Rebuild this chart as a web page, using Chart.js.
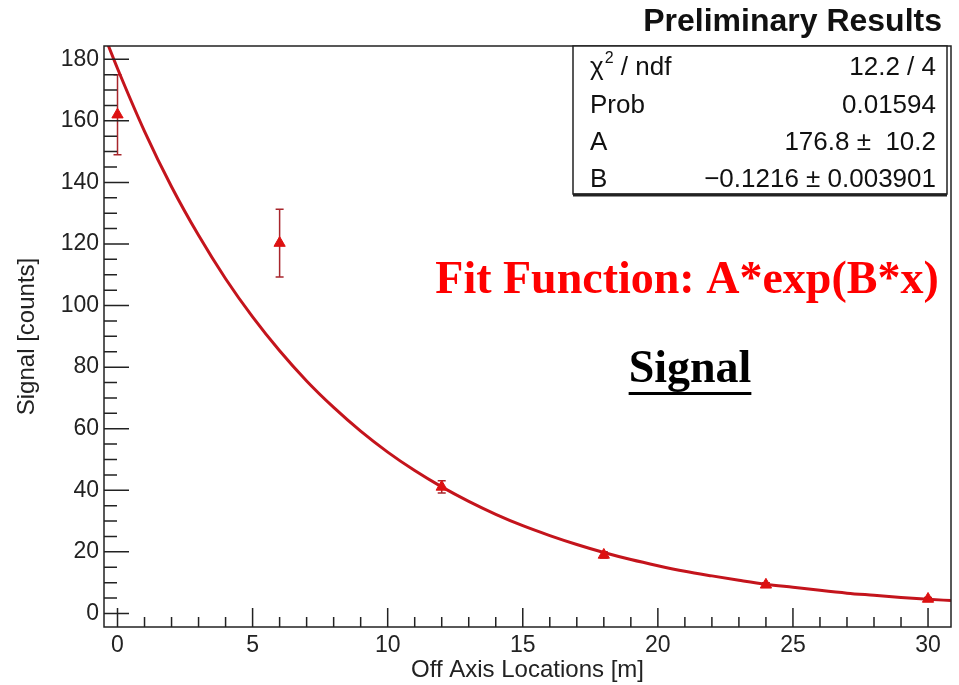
<!DOCTYPE html>
<html>
<head>
<meta charset="utf-8">
<script src="https://cdn.jsdelivr.net/npm/chart.js@4.4.1/dist/chart.umd.min.js"></script>
<style>
  html, body { margin: 0; padding: 0; background: #fff; }
  #wrap { width: 959px; height: 685px; position: relative; }
</style>
</head>
<body>
<div id="wrap"><canvas id="fitChart"></canvas></div>
<script>
// Measured points (off axis location in m, signal in counts)
const locations = [0, 6, 12, 18, 24, 30];
const signal = [162, 120.3, 41.1, 19.0, 9.3, 4.7];
const signalErr = [13, 11, 2, 1, 0.7, 0.5];

// Fit curve
const fitX = [-0.5, 0, 1, 2, 3, 4, 5, 6, 7, 8, 9, 10, 11, 12, 13, 14, 15, 16, 17, 18, 19, 20,
    21, 22, 23, 24, 25, 26, 27, 28, 29, 30, 30.85];
const fitY = [188, 177, 156.6, 138.6, 122.8, 108.7, 96.3, 85.3, 75.5, 66.9, 59.2, 52.4, 46.4, 41.1, 36.4, 32.2,
    28.5, 25.3, 22.4, 19.8, 17.5, 15.5, 13.7, 12.2, 10.8, 9.5, 8.5, 7.5, 6.6, 5.9, 5.2, 4.6, 4.2];

// Stats box
const statsLabels = ['χ', 'Prob', 'A', 'B'];
const statsValues = ['12.2 / 4', '0.01594', '176.8 \u00b1  10.2', '\u22120.1216 \u00b1 0.003901'];

const sans = '"Liberation Sans", Arial, Helvetica, sans-serif';
const serif = '"Liberation Serif", "Times New Roman", serif';

// ROOT style frame, inner ticks and annotations
const rootStyle = {
    id: 'rootStyle',
    beforeDatasetsDraw(chart) {
        // error bars under the markers
        const { ctx, scales: { x, y } } = chart;
        ctx.save();
        ctx.strokeStyle = '#a8262c';
        ctx.lineWidth = 1.5;
        locations.forEach((loc, i) => {
            const px = x.getPixelForValue(loc);
            const top = y.getPixelForValue(signal[i] + signalErr[i]);
            const bot = y.getPixelForValue(signal[i] - signalErr[i]);
            ctx.beginPath();
            ctx.moveTo(px, top); ctx.lineTo(px, bot);
            ctx.moveTo(px - 4, top); ctx.lineTo(px + 4, top);
            ctx.moveTo(px - 4, bot); ctx.lineTo(px + 4, bot);
            ctx.stroke();
        });
        ctx.restore();
    },
    afterDraw(chart) {
        const { ctx, chartArea: a, scales: { x, y } } = chart;
        ctx.save();

        // inner ticks
        ctx.strokeStyle = '#222';
        ctx.lineWidth = 1.5;
        ctx.beginPath();
        for (let v = Math.ceil(x.min); v <= x.max; v++) {
            const px = x.getPixelForValue(v);
            const len = v % 5 === 0 ? 19 : 10;
            ctx.moveTo(px, a.bottom); ctx.lineTo(px, a.bottom - len);
        }
        for (let v = Math.ceil(y.min / 5) * 5; v <= y.max; v += 5) {
            const py = y.getPixelForValue(v);
            const len = v % 20 === 0 ? 25 : 13;
            ctx.moveTo(a.left, py); ctx.lineTo(a.left + len, py);
        }
        ctx.stroke();

        // frame
        ctx.lineWidth = 1.5;
        ctx.strokeRect(a.left, a.top, a.right - a.left, a.bottom - a.top);

        // title
        ctx.fillStyle = '#111';
        ctx.font = 'bold 32px ' + sans;
        ctx.textAlign = 'right';
        ctx.textBaseline = 'alphabetic';
        ctx.fillText('Preliminary Results', 942, 31);

        // stats box
        const bx = 573, by = a.top, bw = 947 - 573, bh = 194 - a.top;
        ctx.fillStyle = '#fff';
        ctx.fillRect(bx, by, bw, bh);
        ctx.strokeStyle = '#222';
        ctx.lineWidth = 1.5;
        ctx.strokeRect(bx, by, bw, bh);
        ctx.lineWidth = 3;
        ctx.beginPath();
        ctx.moveTo(bx, by + bh + 1); ctx.lineTo(bx + bw, by + bh + 1);
        ctx.stroke();

        ctx.fillStyle = '#111';
        const rows = [75, 113, 150, 187];
        rows.forEach((ry, i) => {
            ctx.font = '26px ' + sans;
            ctx.textAlign = 'left';
            if (i === 0) {
                ctx.fillText('χ', 590, ry);
                const w = ctx.measureText('χ').width;
                ctx.font = '16px ' + sans;
                ctx.fillText('2', 590 + w + 1, ry - 12);
                ctx.font = '26px ' + sans;
                ctx.fillText(' / ndf', 590 + w + 10, ry);
            } else {
                ctx.fillText(statsLabels[i], 590, ry);
            }
            ctx.textAlign = 'right';
            ctx.fillText(statsValues[i], 936, ry);
        });

        // fit function note
        ctx.fillStyle = '#ff0000';
        ctx.font = 'bold 46px ' + serif;
        ctx.textAlign = 'center';
        ctx.fillText('Fit Function: A*exp(B*x)', 687, 293);

        ctx.fillStyle = '#000';
        ctx.fillText('Signal', 690, 382);
        const sw = ctx.measureText('Signal').width;
        ctx.fillRect(690 - sw / 2, 392, sw, 3);

        ctx.restore();
    }
};

const ctx = document.getElementById('fitChart').getContext('2d');

new Chart(ctx, {
    type: 'scatter',
    data: {
        datasets: [
            {
                label: 'fit',
                data: fitX.map((v, i) => ({ x: v, y: fitY[i] })),
                showLine: true,
                borderColor: '#c4141c',
                borderWidth: 3,
                pointRadius: 0,
                cubicInterpolationMode: 'monotone',
                order: 2
            },
            {
                label: 'Signal',
                data: locations.map((v, i) => ({ x: v, y: signal[i] })),
                showLine: false,
                pointStyle: 'triangle',
                pointRadius: 6.5,
                backgroundColor: '#dd1111',
                borderColor: '#dd1111',
                borderWidth: 1,
                order: 1
            }
        ]
    },
    options: {
        responsive: true,
        maintainAspectRatio: false,
        animation: false,
        layout: { padding: { top: 46, right: 8, left: 0, bottom: 0 } },
        plugins: {
            legend: { display: false },
            tooltip: { enabled: false }
        },
        scales: {
            x: {
                type: 'linear',
                min: -0.5,
                max: 30.85,
                afterFit: s => { s.height = 58; },
                grid: { display: false, drawTicks: false },
                border: { display: false },
                ticks: {
                    stepSize: 5,
                    includeBounds: false,
                    autoSkip: false,
                    maxRotation: 0,
                    padding: 5,
                    color: '#222',
                    font: { family: sans, size: 23 }
                },
                title: {
                    display: true,
                    text: 'Off Axis Locations [m]',
                    color: '#222',
                    padding: { top: 0, bottom: 0 },
                    font: { family: sans, size: 24 }
                }
            },
            y: {
                type: 'linear',
                min: -4.4,
                max: 184.3,
                afterFit: s => { s.width = 104; },
                grid: { display: false, drawTicks: false },
                border: { display: false },
                ticks: {
                    stepSize: 20,
                    includeBounds: false,
                    padding: 5,
                    color: '#222',
                    font: { family: sans, size: 23 }
                },
                title: {
                    display: true,
                    text: 'Signal [counts]',
                    color: '#222',
                    padding: { top: 13, bottom: 0 },
                    font: { family: sans, size: 24 }
                }
            }
        }
    },
    plugins: [rootStyle]
});
</script>
</body>
</html>
